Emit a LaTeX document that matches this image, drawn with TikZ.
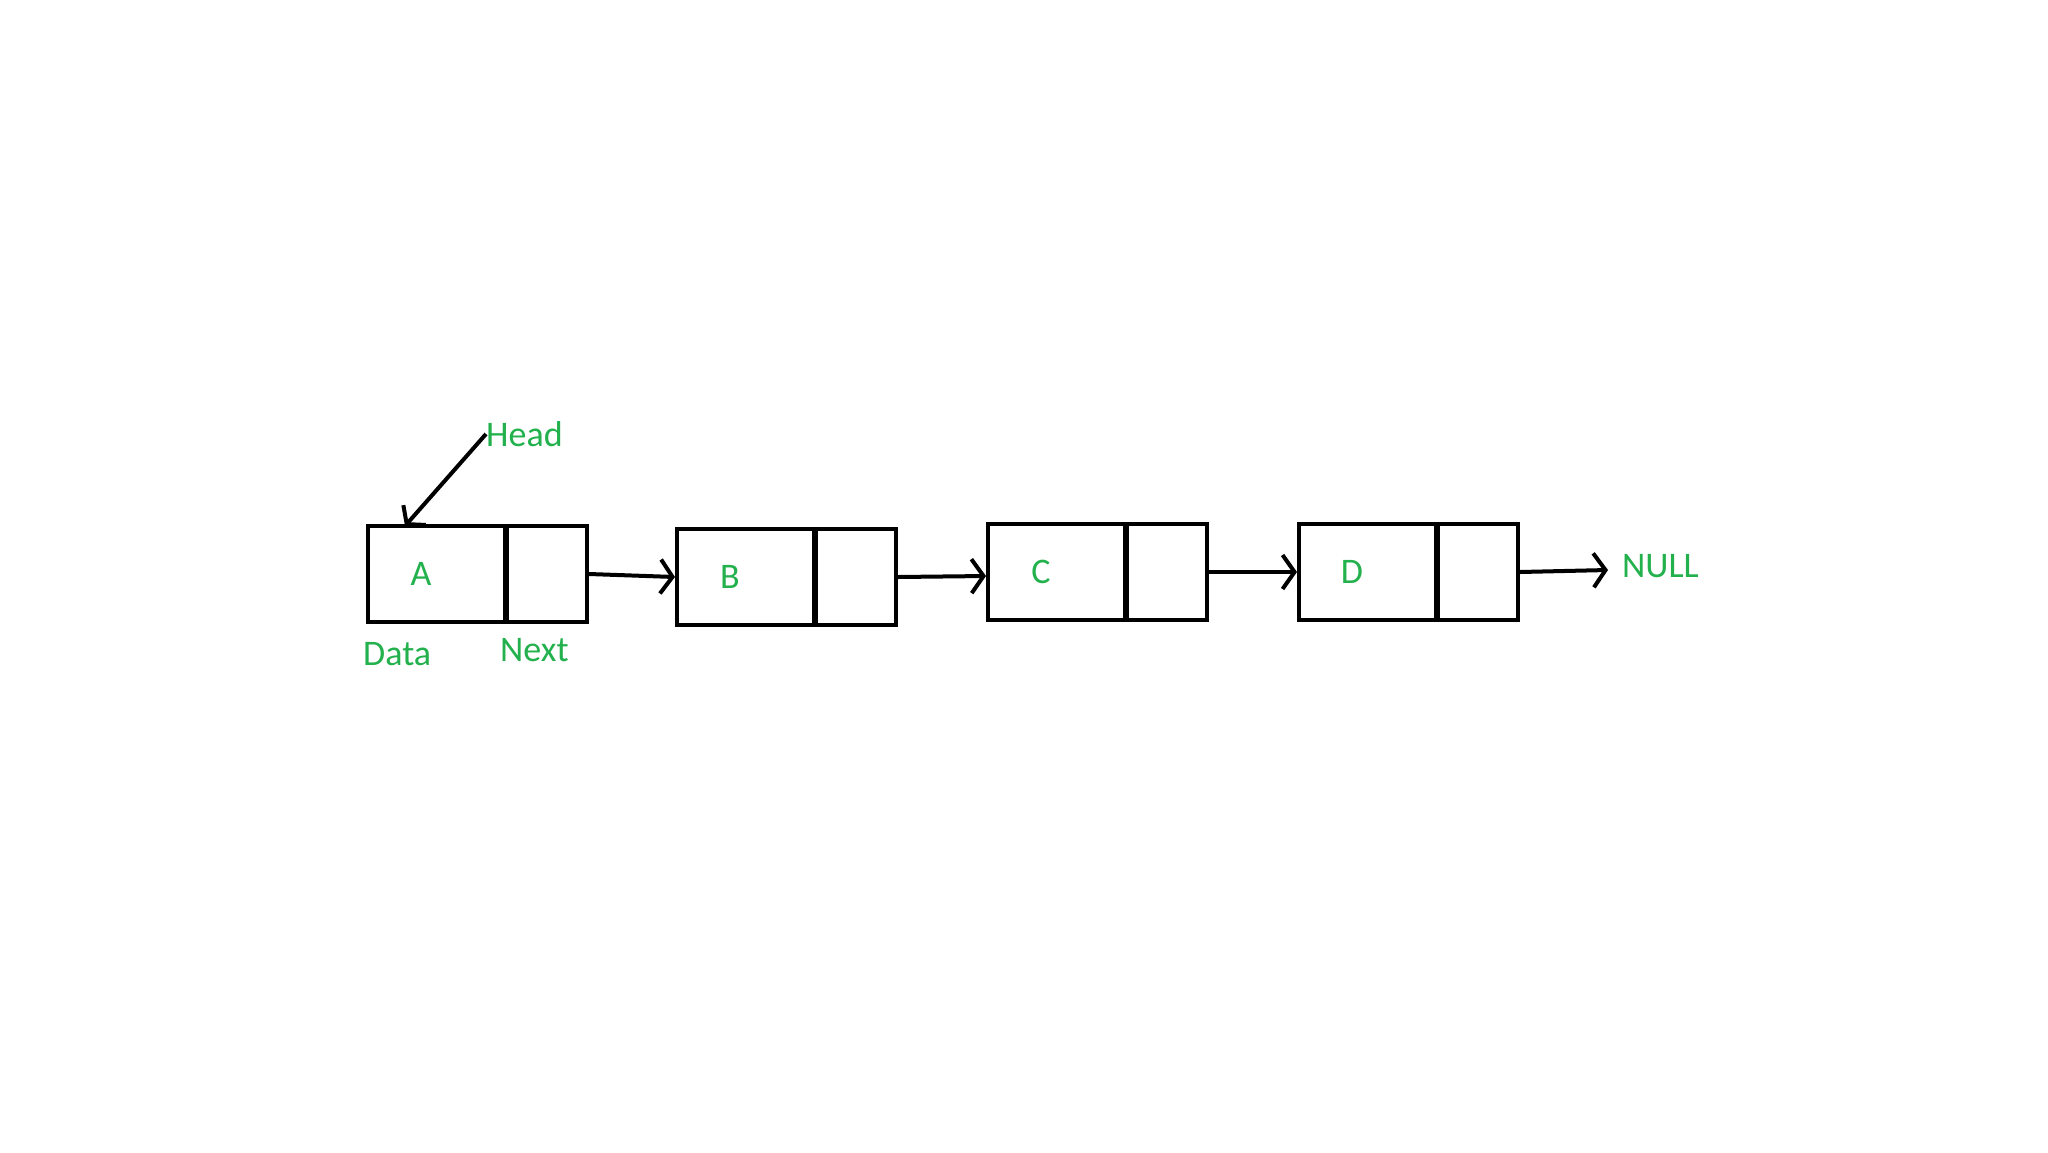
\documentclass[tikz,border=0pt]{standalone}
\usepackage{fontspec}
\setmainfont{Carlito}
\definecolor{pg}{RGB}{34,177,76}
\begin{document}
\begin{tikzpicture}[x=1pt,y=-1pt,
  cell/.style={draw=black,line width=4pt,minimum height=96pt,inner sep=0pt},
  lbl/.style={text=pg,font=\fontsize{36}{40}\selectfont,inner sep=0pt},
  link/.style={draw=black,line width=4pt,-{Straight Barb[length=12pt,width=34pt,line width=4pt]}}]
\useasboundingbox[fill=white] (0,0) rectangle (2048,1152);
\usetikzlibrary{arrows.meta}
\foreach \n/\x/\y/\t in {a/366/574/A,b/675/577/B,c/986/572/C,d/1297/572/D}{
  \node[cell,anchor=west,minimum width=137pt] (\n d) at (\x,\y) {};
  \node[cell,anchor=west,minimum width=80pt] (\n n) at ([xshift=-2pt]\n d.east) {};
  \node[lbl] (\n t) at ([xshift=55pt]\n d.west) {\t};
}
\node[lbl,anchor=west] (null) at (1622,566) {NULL};
\node[lbl,anchor=west] (head) at (486,434) {Head};
\node[lbl,anchor=west] (data) at (363,654) {Data};
\node[lbl,anchor=west] (next) at (500,650) {Next};
\draw[link] (an.east) -- (bd.west);
\draw[link] (bn.east) -- ([yshift=-4pt]cd.west);
\draw[link] (cn.east) -- ([yshift=0pt]dd.west);
\coordinate (nend) at (1608,570);
\draw[link] (dn.east) -- (nend);
\draw[draw=black,line width=4pt,-{Straight Barb[length=12pt,width=30pt,line width=4pt]}] (head.west) -- (405,526);
\end{tikzpicture}
\end{document}
